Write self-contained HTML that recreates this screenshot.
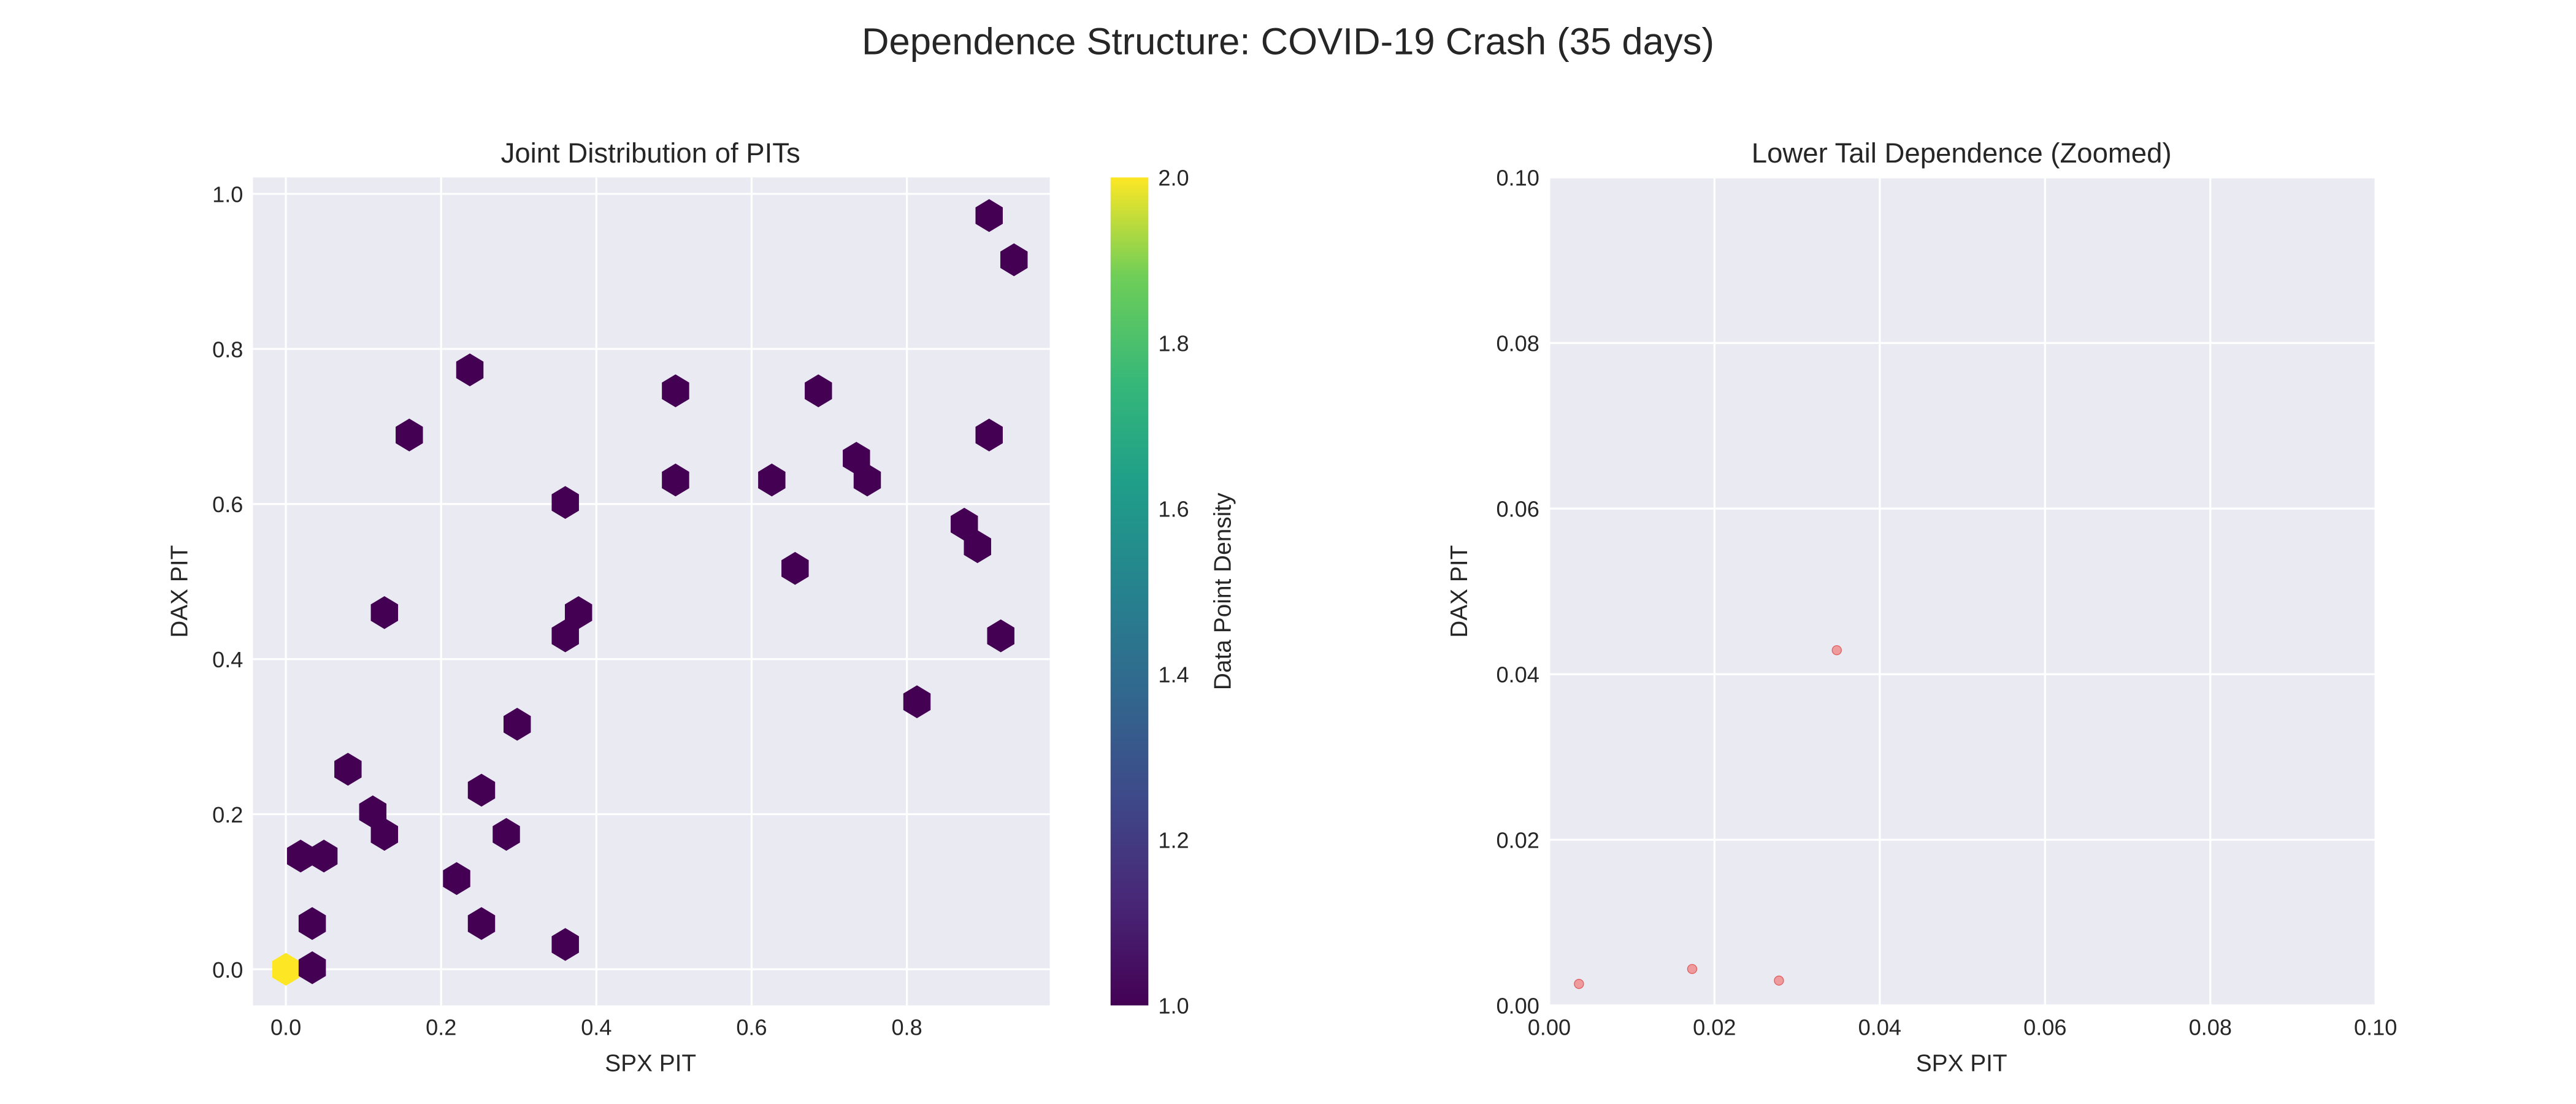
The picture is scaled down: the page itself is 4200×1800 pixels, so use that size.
<!DOCTYPE html>
<html><head><meta charset="utf-8"><style>
html,body{margin:0;padding:0;background:#fff}
svg{display:block}
text{font-family:"Liberation Sans","DejaVu Sans",sans-serif;fill:#262626}
</style></head><body>
<svg id="fig" width="4200" height="1800" viewBox="0 0 1568 672" xmlns="http://www.w3.org/2000/svg">
<defs>
<linearGradient id="vir" x1="0" y1="1" x2="0" y2="0">
<stop offset="0" stop-color="#440154"/><stop offset="0.13" stop-color="#482878"/><stop offset="0.25" stop-color="#3e4989"/><stop offset="0.38" stop-color="#31688e"/><stop offset="0.5" stop-color="#26828e"/><stop offset="0.63" stop-color="#1f9e89"/><stop offset="0.75" stop-color="#35b779"/><stop offset="0.88" stop-color="#6ece58"/><stop offset="1" stop-color="#fde725"/>
</linearGradient>
</defs>
<text x="784" y="33" font-size="23" text-anchor="middle">Dependence Structure: COVID-19 Crash (35 days)</text>
<g id="left"></g>
<g id="cbar"></g>
<g id="right"></g>
</svg>
<script>
// Left hexbin data
const hexX=[0,.034,.034,.019,.049,.080,.112,.127,.127,.159,.237,.220,.252,.252,.284,.298,.360,.360,.377,.360,.502,.502,.656,.626,.686,.735,.749,.813,.874,.891,.906,.906,.938,.921];
const hexY=[0,.002,.059,.146,.146,.258,.203,.174,.460,.689,.773,.117,.231,.059,.174,.316,.602,.430,.460,.032,.746,.631,.517,.631,.746,.659,.631,.345,.574,.545,.689,.972,.915,.430];
const hexCount=[2,1,1,1,1,1,1,1,1,1,1,1,1,1,1,1,1,1,1,1,1,1,1,1,1,1,1,1,1,1,1,1,1,1];
const leftXTicks=[0,0.2,0.4,0.6,0.8];
const leftYTicks=[0,0.2,0.4,0.6,0.8,1.0];
const cbarTicks=[1.0,1.2,1.4,1.6,1.8,2.0];
// Right tail data
const tailX=[.0036,.0173,.0278,.0348];
const tailY=[.0026,.0044,.0030,.0429];
const rightTicks=[0,0.02,0.04,0.06,0.08,0.10];

const NS="http://www.w3.org/2000/svg";
function mk(parent,tag,attrs,text){const e=document.createElementNS(NS,tag);for(const k in attrs)e.setAttribute(k,attrs[k]);if(text!==undefined)e.textContent=text;parent.appendChild(e);return e;}

// Left axes
const L=document.getElementById('left');
const lx=v=>174+v*472.5, ly=v=>590-v*472;
let bg=mk(L,'rect',{x:154,y:108,width:485,height:504,fill:'#eaeaf2'});


leftXTicks.forEach(t=>{
  let g=mk(L,'line',{x1:lx(t),x2:lx(t),y1:108,y2:612,stroke:'#fff','stroke-width':1.2});
  
  
  let tx=mk(L,'text',{x:lx(t),y:630,'font-size':13.5,'text-anchor':'middle'},t.toFixed(1));
  
  
});
leftYTicks.forEach(t=>{
  let g=mk(L,'line',{x1:154,x2:639,y1:ly(t),y2:ly(t),stroke:'#fff','stroke-width':1.2});
  
  
  let tx=mk(L,'text',{x:148,y:ly(t)+5,'font-size':13.5,'text-anchor':'end'},t.toFixed(1));
  
  
});
function vir(c){return c>=2?'#fde725':'#440154';}
hexX.forEach((x,i)=>{
  const cx=lx(x),cy=ly(hexY[i]),r=10,w=8.3;
  const pts=[[cx,cy-r],[cx+w,cy-r/2],[cx+w,cy+r/2],[cx,cy+r],[cx-w,cy+r/2],[cx-w,cy-r/2]].map(p=>p.join(',')).join(' ');
  let h=mk(L,'polygon',{points:pts,fill:vir(hexCount[i])});
  
  
});
let t1=mk(L,'text',{x:396,y:99,'font-size':17,'text-anchor':'middle'},'Joint Distribution of PITs');


let xl=mk(L,'text',{x:396,y:652,'font-size':14.5,'text-anchor':'middle'},'SPX PIT');


let yl=mk(L,'text',{x:0,y:0,'font-size':14.5,'text-anchor':'middle',transform:'translate(114,360) rotate(-90)'},'DAX PIT');



// Colorbar
const C=document.getElementById('cbar');
const cy=v=>612-(v-1)*504;
let cr=mk(C,'rect',{x:676,y:108,width:23,height:504,fill:'url(#vir)'});


cbarTicks.forEach(t=>{
  let tx=mk(C,'text',{x:705,y:cy(t)+5,'font-size':13.5},t.toFixed(1));
  
  
});
let cl=mk(C,'text',{x:0,y:0,'font-size':14.5,'text-anchor':'middle',transform:'translate(749,360) rotate(-90)'},'Data Point Density');



// Right axes
const R=document.getElementById('right');
const rx=v=>943+v/0.1*503, ry=v=>612-v/0.1*504;
let bg2=mk(R,'rect',{x:943,y:108,width:503,height:504,fill:'#eaeaf2'});


rightTicks.forEach(t=>{
  let g=mk(R,'line',{x1:rx(t),x2:rx(t),y1:108,y2:612,stroke:'#fff','stroke-width':1.2});
  
  
  let g2=mk(R,'line',{x1:943,x2:1446,y1:ry(t),y2:ry(t),stroke:'#fff','stroke-width':1.2});
  
  
  let tx=mk(R,'text',{x:rx(t),y:630,'font-size':13.5,'text-anchor':'middle'},t.toFixed(2));
  
  
  let ty=mk(R,'text',{x:937,y:ry(t)+5,'font-size':13.5,'text-anchor':'end'},t.toFixed(2));
  
  
});
tailX.forEach((x,i)=>{
  let p=mk(R,'circle',{cx:rx(x),cy:ry(tailY[i]),r:2.8,fill:'#f08080','fill-opacity':0.75,stroke:'#e06060','stroke-width':0.5});
  
  
});
let t2=mk(R,'text',{x:1194,y:99,'font-size':17,'text-anchor':'middle'},'Lower Tail Dependence (Zoomed)');


let xl2=mk(R,'text',{x:1194,y:652,'font-size':14.5,'text-anchor':'middle'},'SPX PIT');


let yl2=mk(R,'text',{x:0,y:0,'font-size':14.5,'text-anchor':'middle',transform:'translate(893,360) rotate(-90)'},'DAX PIT');


</script>
</body></html>
